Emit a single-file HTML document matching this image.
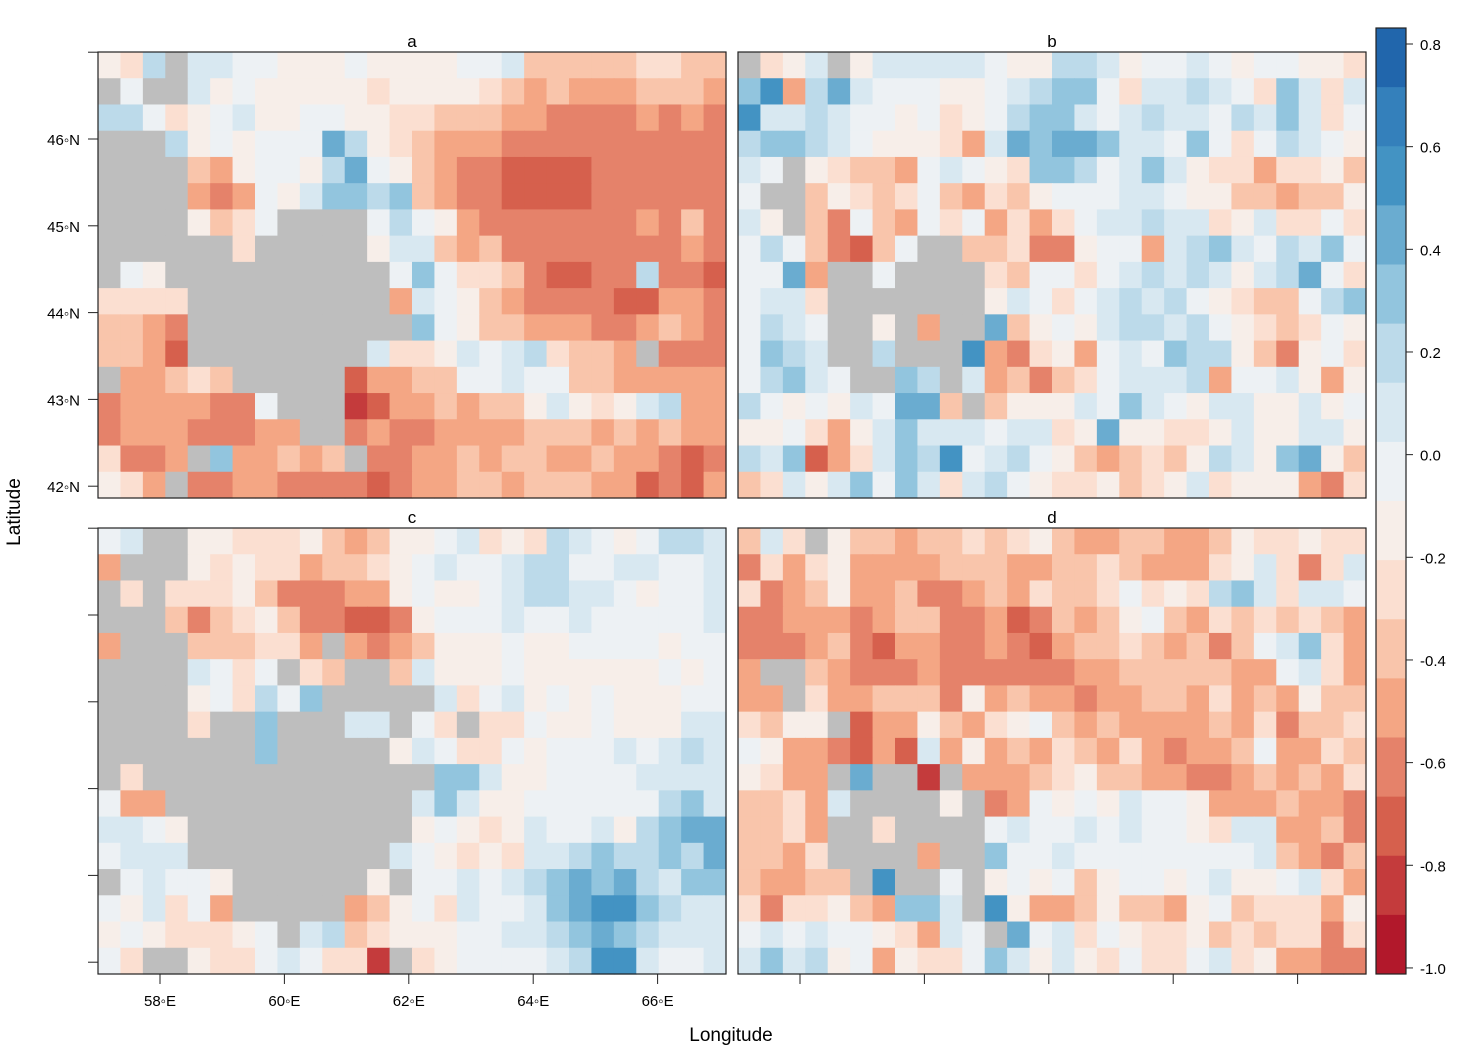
<!DOCTYPE html>
<html><head><meta charset="utf-8">
<style>
body{margin:0;background:#fff;}
svg{display:block;font-family:"Liberation Sans",sans-serif;}
</style></head>
<body>
<svg id="chart" width="1457" height="1048" viewBox="0 0 1457 1048" xmlns="http://www.w3.org/2000/svg">
<rect width="1457" height="1048" fill="#fff"/>
<g id="panels"></g>
<g id="axes"></g>
<text x="20" y="512" font-size="19" text-anchor="middle" transform="rotate(-90 20 512)">Latitude</text>
<text x="731" y="1041" font-size="19" text-anchor="middle">Longitude</text>
</svg>
<script>
// level codes: 0 = darkest red (-1.0) ... f = darkest blue (0.8), g = missing (grey)
const panelA = [
"76ag998877787777889555556655",
"g8gg978777776777765454445554",
"aa86789778877665554433334343",
"ggga787888ca7654443333333333",
"gggg547887ac8754332222333333",
"gggg434879bbab54332222333333",
"gggg7568gggg8a87433333334353",
"gggggg6ggggg7995453333333343",
"g87gggggggggg8b866532233a332",
"6666ggggggggg498754333322443",
"5543ggggggggggb8755444334543",
"5542gggggggg9667989a6554g333",
"g44565ggggg24455889885544444",
"34444338ggg12445455797679a44",
"344433344gg34334444555454544",
"6334gb44545g3344545544544323",
"764g334433332344554555442324"];
const panelB = [
"g679g799999877aa978898788776",
"bd4ac98887789abb8699a986b969",
"d99a98878678abb989a998a9b968",
"abba98777649cbccb998b868a987",
"98g7655489876bba89b976646675",
"8gg5765685465788899877554557",
"97g538548684646899a996796686",
"8a853258gg5563378849ab98a9b8",
"88c4gg8gggg6588689a9a979ac86",
"8996ggggggg798689a9a876558ab",
"8a98gg7g4ggc57879aa9a8765687",
"8ba9ggagggd43674898baa753786",
"8ab98ggbag9453568999a4889747",
"a878798cc5g577798b9879977978",
"7786479b99989967c77667977997",
"a9b2469bad89a87545657a97bc75",
"56979b8b969a8766756796777436"];
const panelC = [
"89gg7766675457789676a9878aa9",
"4ggg767664556789889aa8899889",
"g6g6667533344787789aa9987889",
"ggg5356753322378889889888889",
"4ggg555664g43457778778888788",
"gggg9868g65gg597778777777878",
"gggg786a8bggggg9689787877788",
"gggg6ggbggg99g86g66877877799",
"gggggggbggggg7986687888989a9",
"g6gggggggggggggbb97788889999",
"844ggggggggggg9b977888888ab9",
"9987gggggggggg7876798897abcc",
"8999ggggggggg98767699abaabac",
"g89887gggggg7g88989abcbca9bb",
"879684ggggg457869889bcddba99",
"78766678g9a567778899abcba999",
"86gg766898661g6788889add9889"];
const panelD = [
"596g755455656754455445766766",
"3646744445554455654446796369",
"634574453345465568676ab96998",
"3344434553342354578546565654",
"3334532443343245565453589b64",
"4gg5433343333334455555448964",
"44g6445553745443445546454755",
"6577g24475467854544445463556",
"8744324294745465464344584465",
"7644gcgg1g444567554433454546",
"55649gggg7g34878798874445443",
"5564gg6gggg89889898876994453",
"5546gggg4ggb8898888888895435",
"54455gdgg8g78785788789778964",
"6366754bb9gd7445755478566647",
"89898876498gc896876675656636",
"9b9a7847668b9797686689674433"];
const panelLabels = ["a","b","c","d"];
const latTickLabels = ["47","46","45","44","43","42"];
const latTickValues = [47,46,45,44,43,42];
const lonTickLabels = ["58","60","62","64","66"];
const lonTickValues = [58,60,62,64,66];
const colorbarTickValues = [0.8,0.6,0.4,0.2,0.0,-0.2,-0.4,-0.6,-0.8,-1.0];
const colorbarTickLabels = ["0.8","0.6","0.4","0.2","0.0","-0.2","-0.4","-0.6","-0.8","-1.0"];

const palette = ["#b2182b","#c43b3c","#d6604d","#e5826a","#f4a684","#f9c5ab","#fbdfd1","#f7eee9",
                 "#edf1f4","#d8e8f1","#bcdaea","#92c5de","#6aacd0","#4393c3","#3480bb","#2166ac"];
const NA = "#bebebe";
const NS = "http://www.w3.org/2000/svg";
const PW = 628, PH = 446;
const panelPos = [[98,52],[738,52],[98,528],[738,528]];
const grids = [panelA,panelB,panelC,panelD];
const COLS = 28, ROWS = 17;
// axis functions
const lonToX = (lon, x0) => x0 + 62 + (lon - 58) * 62.2;
const latToY = (lat, y0) => y0 + 87 + (46 - lat) * 86.8;
const cbY = v => 44 + (0.8 - v) * 513.3;

function mk(tag, attrs, parent){
  const e = document.createElementNS(NS, tag);
  for (const k in attrs) e.setAttribute(k, attrs[k]);
  parent.appendChild(e); return e;
}
const pg = document.getElementById('panels');
const ax = document.getElementById('axes');

grids.forEach((grid, p) => {
  const [x0, y0] = panelPos[p];
  const g = mk('g', {}, pg);
  
  
  const cw = PW / COLS, ch = PH / ROWS;
  for (let r = 0; r < ROWS; r++) {
    const row = (grid[r] || "").padEnd(COLS, "8");
    for (let c = 0; c < COLS; c++) {
      const code = row[c];
      const fill = code === 'g' ? NA : palette[parseInt(code, 16)];
      const cell = mk('rect', {x: (x0 + c*cw).toFixed(2), y: (y0 + r*ch).toFixed(2), width: (cw+0.6).toFixed(2), height: (ch+0.6).toFixed(2), fill: fill}, g);
      
      
    }
  }
  const fr = mk('rect', {x: x0, y: y0, width: PW, height: PH, fill: 'none', stroke: '#222', 'stroke-width': 1.2}, g);
  
  
  const t = mk('text', {x: x0 + PW/2, y: y0 - 5, 'font-size': 17, 'text-anchor': 'middle'}, g);
  t.textContent = panelLabels[p];
  
  
  // lat ticks for left panels
  if (p === 0 || p === 2) {
    latTickValues.forEach((lat, i) => {
      const y = latToY(lat, y0);
      const tk = mk('line', {x1: x0 - 10, x2: x0, y1: y, y2: y, stroke: '#222', 'stroke-width': 1}, ax);
      
      
      if (p === 0 && i > 0) {
        const lb = mk('text', {x: x0 - 18, y: y + 6, 'font-size': 15, 'text-anchor': 'end'}, ax);
        lb.textContent = latTickLabels[i] + "\u25E6N";
        
        
      }
    });
  }
  if (p === 2 || p === 3) {
    lonTickValues.forEach((lon, i) => {
      const x = lonToX(lon, x0);
      const tk = mk('line', {x1: x, x2: x, y1: y0 + PH, y2: y0 + PH + 10, stroke: '#222', 'stroke-width': 1}, ax);
      
      
      if (p === 2) {
        const lb = mk('text', {x: x, y: y0 + PH + 32, 'font-size': 15, 'text-anchor': 'middle'}, ax);
        lb.textContent = lonTickLabels[i] + "\u25E6E";
        
        
      }
    });
  }
});

// colorbar
const cb = mk('g', {}, ax);


const cbTop = 28, cbBot = 974, nB = palette.length, bh = (cbBot - cbTop) / nB;
for (let i = 0; i < nB; i++) {
  const b = mk('rect', {x: 1376, y: (cbTop + i*bh).toFixed(2), width: 30, height: (bh+0.5).toFixed(2), fill: palette[nB-1-i]}, cb);
  
  
}
const cbf = mk('rect', {x: 1376, y: cbTop, width: 30, height: cbBot - cbTop, fill: 'none', stroke: '#222', 'stroke-width': 1.2}, cb);


colorbarTickValues.forEach((v, i) => {
  const y = cbY(v);
  const tk = mk('line', {x1: 1406, x2: 1413, y1: y, y2: y, stroke: '#222', 'stroke-width': 1}, cb);
  
  
  const lb = mk('text', {x: 1420, y: y + 6, 'font-size': 15}, cb);
  lb.textContent = colorbarTickLabels[i];
  
  
});
</script>
</body></html>
